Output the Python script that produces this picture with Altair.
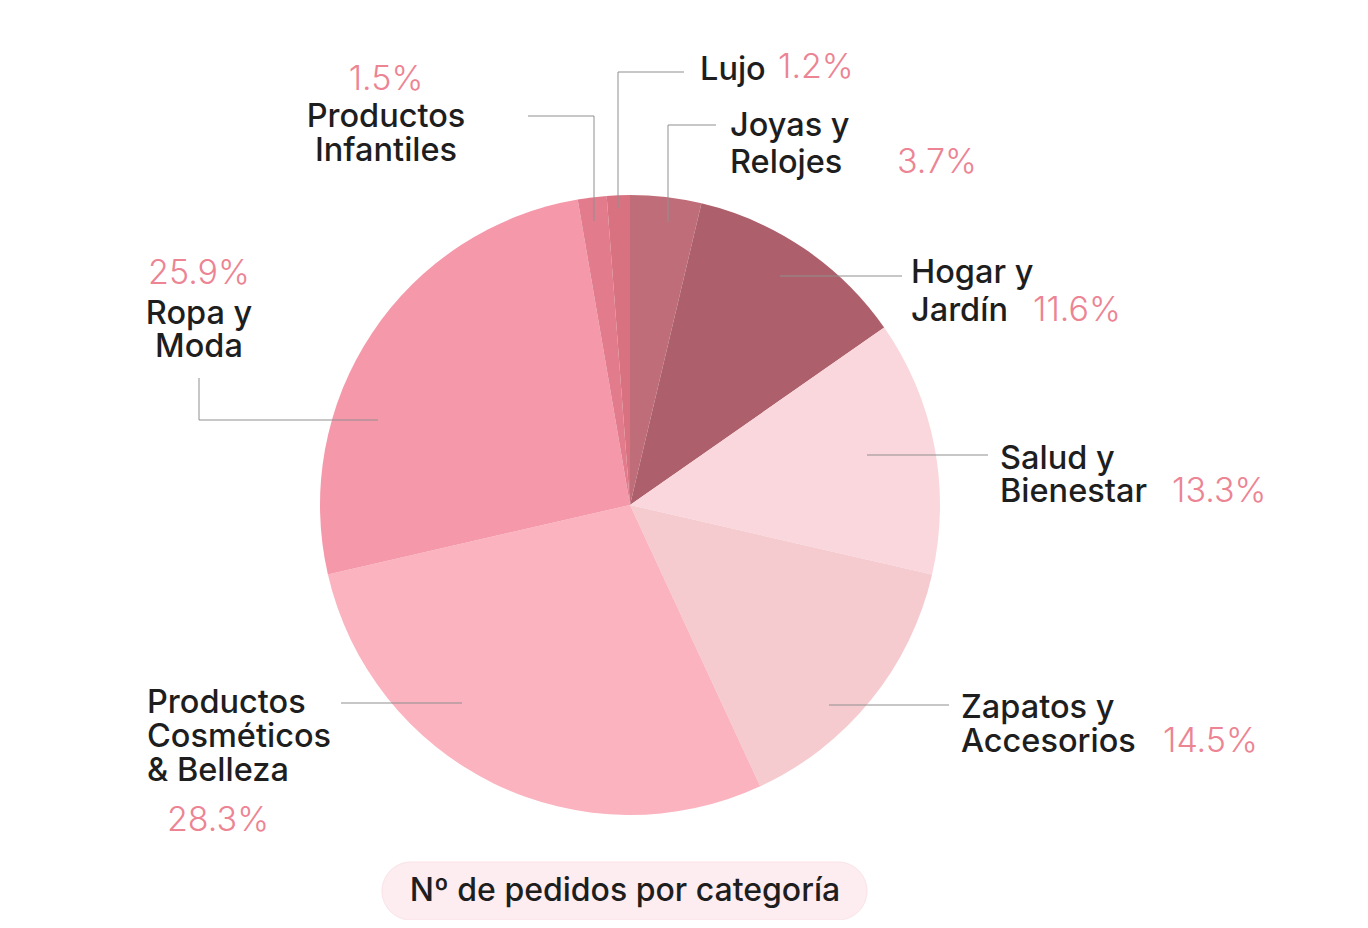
import altair as alt
import pandas as pd

# slice data, clockwise from 12 o'clock
categories = ["Joyas y Relojes", "Hogar y Jardín", "Salud y Bienestar",
              "Zapatos y Accesorios", "Productos Cosméticos & Belleza",
              "Ropa y Moda", "Productos Infantiles", "Lujo"]
shares = [3.7, 11.6, 13.3, 14.5, 28.3, 25.9, 1.5, 1.2]
colors = ["#bf6e79", "#ad606b", "#fad7dc", "#f5cbcf", "#fab3bf",
          "#f598aa", "#e27b8c", "#d97280"]

pct_labels = [f"{v}%" for v in shares]

OFF = 8  # page margin
CX, CY, R = 630 - OFF, 505 - OFF, 310

pie_df = pd.DataFrame({"cat": categories, "share": shares, "idx": range(len(categories))})

# label layout (page coords): lines of name text, and percentage position
name_lines = [
    ("Lujo", 700, 70, "left"),
    ("Joyas y", 730, 126, "left"), ("Relojes", 730, 163, "left"),
    ("Hogar y", 911, 273, "left"), ("Jardín", 911, 311, "left"),
    ("Salud y", 1000, 459, "left"), ("Bienestar", 1000, 492, "left"),
    ("Zapatos y", 961, 708, "left"), ("Accesorios", 961, 742, "left"),
    ("Productos", 147, 703, "left"), ("Cosméticos", 147, 737, "left"),
    ("& Belleza", 147, 771, "left"),
    ("Ropa y", 199, 314, "center"), ("Moda", 199, 347, "center"),
    ("Productos", 386, 117, "center"), ("Infantiles", 386, 151, "center"),
]
pct_pos = [(897, 163, "left"), (1033, 311, "left"), (1172, 492, "left"),
           (1163, 742, "left"), (218, 821, "center"), (199, 274, "center"),
           (386, 80, "center"), (778, 68, "left")]

leaders = [
    (618, 208, 618, 72), (618, 72, 684, 72),
    (594, 221, 594, 116), (528, 116, 594, 116),
    (668, 222, 668, 125), (668, 125, 716, 125),
    (780, 276, 902, 276),
    (867, 455, 988, 455),
    (829, 705, 949, 705),
    (341, 703, 462, 703),
    (199, 378, 199, 420), (199, 420, 378, 420),
]

pie = alt.Chart(pie_df).mark_arc(outerRadius=R, stroke=None).encode(
    theta=alt.Theta("share:Q", stack=True),
    color=alt.Color("cat:N", scale=alt.Scale(domain=categories, range=colors), legend=None),
    order=alt.Order("idx:Q"),
    x=alt.value(CX),
    y=alt.value(CY),
)

lead_df = pd.DataFrame(leaders, columns=["x", "y", "x2", "y2"]) - OFF
lead = alt.Chart(lead_df).mark_rule(color="#8f8f8f", strokeWidth=1).encode(
    x=alt.X("x:Q", scale=None), y=alt.Y("y:Q", scale=None),
    x2="x2:Q", y2="y2:Q",
)

names_df = pd.DataFrame(name_lines, columns=["t", "x", "y", "a"])
names_df["x"] -= OFF
names_df["y"] -= OFF


def text_layer(df, align, **kw):
    return alt.Chart(df[df["a"] == align]).mark_text(align=align, baseline="middle", **kw).encode(
        x=alt.X("x:Q", scale=None), y=alt.Y("y:Q", scale=None), text="t:N"
    )


name_kw = dict(font="Inter", fontSize=32.5, fontWeight=500, color="#1e1e1e")
names = text_layer(names_df, "left", **name_kw) + text_layer(names_df, "center", **name_kw)

pct_df = pd.DataFrame([(t, x - OFF, y - OFF, a) for t, (x, y, a) in zip(pct_labels, pct_pos)],
                      columns=["t", "x", "y", "a"])
pct_kw = dict(font="Inter", fontSize=34, fontWeight=300, color="#ec8493")
pcts = text_layer(pct_df, "left", **pct_kw) + text_layer(pct_df, "center", **pct_kw)

pill = alt.Chart(pd.DataFrame({"x": [382 - OFF], "x2": [867 - OFF], "y": [862 - OFF], "y2": [920 - OFF]})).mark_rect(
    fill="#fdedf0", cornerRadius=29, stroke="#fbe3e7", strokeWidth=1
).encode(x=alt.X("x:Q", scale=None), x2="x2:Q", y=alt.Y("y:Q", scale=None), y2="y2:Q")

title = alt.Chart(pd.DataFrame({"t": ["Nº de pedidos por categoría"], "x": [625 - OFF], "y": [891 - OFF]})).mark_text(
    font="Inter", fontSize=32, fontWeight=500, color="#1e1e1e", align="center", baseline="middle"
).encode(x=alt.X("x:Q", scale=None), y=alt.Y("y:Q", scale=None), text="t:N")

chart = alt.layer(pie, lead, names, pcts, pill, title).properties(
    width=1352, height=912, padding=0, autosize=alt.AutoSizeParams(type="none"), background="white"
).configure_view(stroke=None)

chart.save("out.html", embed_options={"renderer": "svg", "actions": False})
